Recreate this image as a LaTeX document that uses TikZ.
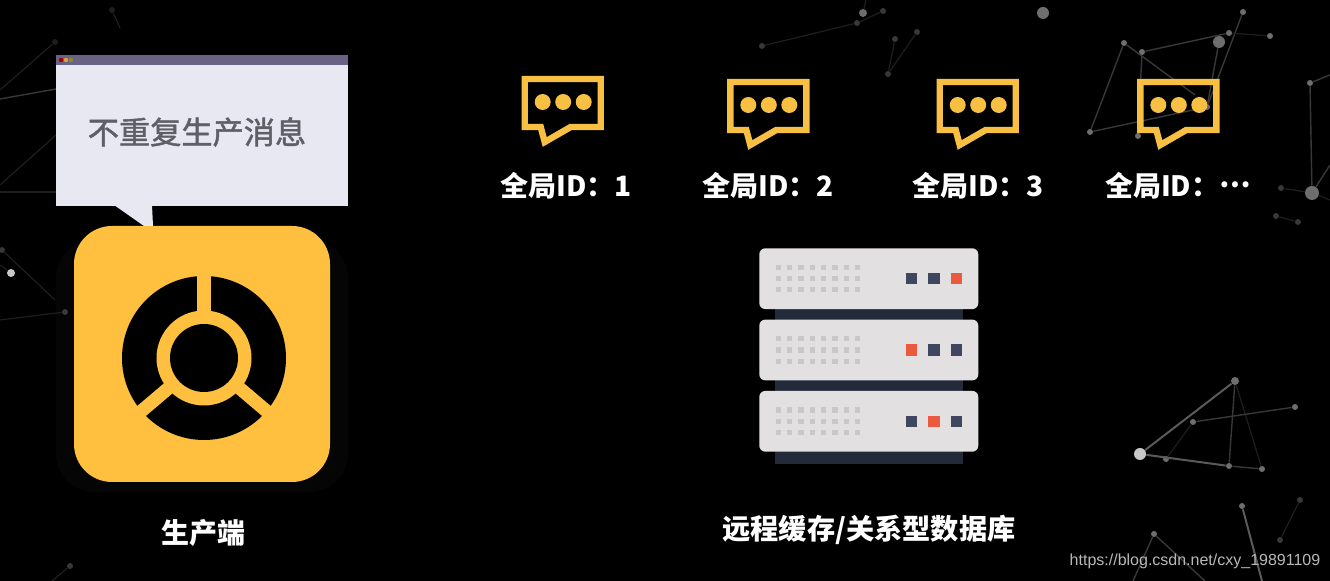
\documentclass[tikz,border=0pt]{standalone}
\usepackage{fontspec}
\usepackage{xcolor}
\usepackage{tikz}
\usetikzlibrary{calc,positioning}
\setmainfont{Noto Sans CJK SC}
\newfontfamily\winfont[FakeBold=1.5]{Noto Sans CJK SC}
\newfontfamily\wmfont{Liberation Sans}
\newcommand{\middots}{\raisebox{0.32em}{…}}
\definecolor{pagebg}{HTML}{000000}
\definecolor{accent}{HTML}{FFC03F}
\definecolor{halo}{HTML}{050505}
\definecolor{msgcolor}{HTML}{F7C043}
\definecolor{winbody}{HTML}{E8E8F3}
\definecolor{winbar}{HTML}{6A6284}
\definecolor{wintext}{HTML}{5F5F66}
\definecolor{srvbody}{HTML}{E3E0E2}
\definecolor{srvbar}{HTML}{232B3A}
\definecolor{srvdot}{HTML}{C9C7C8}
\definecolor{srvnavy}{HTML}{3F4660}
\definecolor{srvred}{HTML}{EB5A3F}
\definecolor{netdim}{HTML}{1E1E1E}
\definecolor{netgray}{HTML}{383838}
\definecolor{netmid}{HTML}{5A5A5A}
\definecolor{netdotc}{HTML}{6E6E6E}
\definecolor{netglow}{HTML}{C8C8C8}

\begin{document}
\begin{tikzpicture}[
  x=0.5pt, y=-0.5pt,
  netdot/.style={circle, fill=#1, inner sep=0pt, minimum size=3pt},
  netdot/.default=netdotc,
  netline/.style={netgray, line width=0.7pt},
  netfaint/.style={netdim, line width=0.6pt},
  netbold/.style={netmid, line width=1pt},
  lbl/.style={text=white, font=\bfseries, inner sep=0pt},
  srvbox/.style={rectangle, fill=srvbody, rounded corners=3pt, minimum width=109.5pt,
    minimum height=30.4pt, inner sep=0pt},
  srvlink/.style={rectangle, fill=srvbar, minimum width=93.8pt, minimum height=7pt, inner sep=0pt},
  lamp/.style={rectangle, fill=#1, minimum size=5.6pt, inner sep=0pt},
  msgline/.style={draw=msgcolor, line width=3.2pt, line join=miter},
  msgdot/.style={circle, fill=msgcolor, minimum size=8pt, inner sep=0pt},
]
  \useasboundingbox (0,0) rectangle (1330,581);
  \fill[pagebg] (0,0) rectangle (1330,581);
  \fill[halo, rounded corners=19pt] (56,240) rectangle (348,492);

  % Background network (top right)
  \node[netdot] (a1) at (1124,43) {};
  \node[netdot] (a2) at (1142,52) {};
  \node[netdot] (a3) at (1090,132) {};
  \node[netdot] (a4) at (1207,107) {};
  \node[netdot] (a5) at (1243,12) {};
  \node[netdot, minimum size=6pt] (a6) at (1219,42) {};
  \node[netdot] (a7) at (1229,33) {};
  \node[netdot] (a8) at (1270,36) {};
  \node[netdot] (a9) at (1138,136) {};
  \node[netdot] (a10) at (1310,83) {};
  \node[netdot, minimum size=7pt] (a11) at (1312,193) {};
  \node[netdot=netgray] (a12) at (1281,188) {};
  \node[netdot=netgray] (a13) at (1298,222) {};
  \node[netdot=netgray] (a14) at (1276,216) {};
  \node[netdot, minimum size=6pt] (a15) at (1043,13) {};
  \coordinate (e1) at (1330,75); \coordinate (e2) at (1330,165);
  \coordinate (e3) at (1330,200); \coordinate (e4) at (1195,95);
  \draw[netline] (a1)--(a3); \draw[netline] (a3)--(a4);
  \draw[netline] (a1)--(e4); \draw[netline] (a2)--(a7);
  \draw[netline] (a2)--(a9); \draw[netline] (a5)--(a4);
  \draw[netline] (a6)--(a4); \draw[netfaint] (a7)--(a8);
  \draw[netline] (a10)--(a11); \draw[netline] (a10)--(e1);
  \draw[netline] (a11)--(e2); \draw[netfaint] (a12)--(a11);
  \draw[netfaint] (a11)--(e3); \draw[netfaint] (a14)--(a13);

  % Background network (bottom right)
  \node[netdot=netglow, minimum size=6pt] (b1) at (1140,454) {};
  \node[netdot, minimum size=4pt] (b2) at (1235,381) {};
  \node[netdot] (b3) at (1229,466) {};
  \node[netdot] (b4) at (1262,469) {};
  \node[netdot] (b5) at (1193,422) {};
  \node[netdot] (b6) at (1295,407) {};
  \node[netdot] (b7) at (1166,459) {};
  \node[netdot] (b8) at (1242,506) {};
  \node[netdot] (b9) at (1154,534) {};
  \node[netdot=netgray] (b10) at (1280,540) {};
  \node[netdot=netgray] (b11) at (1300,500) {};
  \coordinate (e5) at (1262,581); \coordinate (e6) at (1133,581);
  \coordinate (e7) at (1205,581);
  \draw[netbold] (b1)--(b2); \draw[netbold] (b1)--(b3);
  \draw[netline] (b3)--(b4); \draw[netline] (b2)--(b3);
  \draw[netfaint] (b2)--(b4); \draw[netline] (b5)--(b6);
  \draw[netfaint] (b5)--(b7); \draw[netbold] (b8)--(e5);
  \draw[netline] (b9)--(e6); \draw[netline] (b9)--(e7);
  \draw[netfaint] (b10)--(b11);

  % Background network (top middle)
  \node[netdot, minimum size=4pt] (c1) at (863,13) {};
  \node[netdot=netgray] (c2) at (883,11) {};
  \node[netdot=netgray] (c3) at (857,23) {};
  \node[netdot=netgray] (c4) at (762,46) {};
  \node[netdot=netgray] (c5) at (888,74) {};
  \node[netdot=netgray] (c6) at (895,39) {};
  \node[netdot=netgray] (c7) at (917,32) {};
  \coordinate (e8) at (866,0);
  \draw[netfaint] (c3)--(c4); \draw[netfaint] (c3)--(c2);
  \draw[netfaint] (c1)--(e8); \draw[netfaint] (c5)--(c6);
  \draw[netfaint] (c5)--(c7);

  % Background network (left)
  \node[netdot=netdim] (d1) at (55,42) {};
  \node[netdot=netglow, minimum size=4pt] (d2) at (11,273) {};
  \node[netdot=netgray] (d3) at (2,250) {};
  \node[netdot=netgray] (d4) at (65,312) {};
  \node[netdot=netgray] (d5) at (70,566) {};
  \node[netdot=netdim] (d6) at (112,10) {};
  \coordinate (f1) at (0,90); \coordinate (f2) at (0,99);
  \coordinate (f3) at (56,89); \coordinate (f4) at (56,135);
  \coordinate (f5) at (0,185); \coordinate (f6) at (0,192);
  \coordinate (f7) at (56,192); \coordinate (f8) at (55,300);
  \coordinate (f9) at (0,320); \coordinate (f10) at (0,265);
  \coordinate (f11) at (52,581); \coordinate (f12) at (120,28);
  \draw[netfaint] (d1)--(f1); \draw[netline] (f2)--(f3);
  \draw[netfaint] (f4)--(f5); \draw[netfaint] (f6)--(f7);
  \draw[netfaint] (d3)--(f8); \draw[netfaint] (d4)--(f9);
  \draw[netfaint] (d2)--(f10); \draw[netfaint] (d5)--(f11);
  \draw[netfaint] (d6)--(f12);

  % Producer
  \fill[accent] (74,264) arc[start angle=180, end angle=90, radius=19pt]
    -- (292,226) arc[start angle=90, end angle=0, radius=19pt]
    -- (330,444) arc[start angle=0, end angle=-90, radius=19pt]
    -- (112,482) arc[start angle=-90, end angle=-180, radius=19pt] -- cycle;
  \coordinate (hub) at (204,358);
  \fill[black] (hub) circle[radius=41pt];
  \draw[accent, line width=6.6pt] (hub) -- ++(0,-86);
  \draw[accent, line width=6.6pt] (hub) -- ($(hub)+(-66,56)$);
  \draw[accent, line width=6.6pt] (hub) -- ($(hub)+(66,56)$);
  \fill[accent] (hub) circle[radius=23.75pt];
  \fill[black] (hub) circle[radius=17pt];
  \node[lbl, font=\fontsize{14}{16}\selectfont\bfseries] (prodlbl) at (203,533) {生产端};

  % Callout window
  \fill[winbody] (114,205) -- (152,205) -- (153,226) -- (144,226) -- cycle;
  \node[rectangle, fill=winbody, minimum width=146pt, minimum height=70.5pt, inner sep=0pt] (win) at (202,135.5) {};
  \node[rectangle, fill=winbar, minimum width=146pt, minimum height=5pt, inner sep=0pt] (winhead) at (202,60) {};
  \node[circle, fill=red!65!black, minimum size=2.2pt, inner sep=0pt] (w1) at (61,60) {};
  \node[circle, fill=accent!85!black, minimum size=2.2pt, inner sep=0pt] (w2) at (66,60) {};
  \node[circle, fill=olive!70!gray, minimum size=2.2pt, inner sep=0pt] (w3) at (71,60) {};
  \node[text=wintext, font=\winfont\fontsize{15.6}{18}\selectfont, inner sep=0pt] (wintxt) at (197,132) {不重复生产消息};

  % Messages
  \foreach \k/\x/\y/\id/\cx in {1/521.7/76/1/566, 2/727.3/79/2/768, 3/936.7/79/3/978, 4/1137.3/79/\middots/1178} {
    \begin{scope}[shift={(\x,\y)}]
      \draw[msgline] (3,3) -- (79,3) -- (79,51) -- (49,51) -- (23,66) -- (19,51) -- (3,51) -- cycle;
      \node[msgdot] (m\k a) at (21,26) {};
      \node[msgdot] (m\k b) at (41.5,26) {};
      \node[msgdot] (m\k c) at (62,26) {};
    \end{scope}
    \node[lbl, font=\fontsize{14}{16}\selectfont\bfseries] (id\k) at (\cx,186) {全局ID：\id};
  }

  % Server
  \node[srvlink] (l1) at (868.8,314.5) {};
  \node[srvlink] (l2) at (868.8,385.5) {};
  \node[srvlink] (l3) at (868.8,457) {};
  \node[srvbox] (s1) at (868.8,278.7) {};
  \node[srvbox] (s2) at (868.8,350) {};
  \node[srvbox] (s3) at (868.8,421.3) {};
  \foreach \r/\cy in {1/278.7, 2/350, 3/421.3} {
    \foreach \i in {0,...,7} {
      \foreach \j in {-11.2,0,11.2} {
        \fill[srvdot] ($(778.3+11.33*\i,\cy+\j)+(-1.3pt,-1.3pt)$) rectangle ++(2.6pt,2.6pt);
      }
    }
  }
  \node[lamp=srvnavy] (p1) at (911.3,278.7) {};
  \node[lamp=srvnavy] (p2) at (934,278.7) {};
  \node[lamp=srvred] (p3) at (956.7,278.7) {};
  \node[lamp=srvred] (q1) at (911.3,350) {};
  \node[lamp=srvnavy] (q2) at (934,350) {};
  \node[lamp=srvnavy] (q3) at (956.7,350) {};
  \node[lamp=srvnavy] (r1) at (911.3,421.3) {};
  \node[lamp=srvred] (r2) at (934,421.3) {};
  \node[lamp=srvnavy] (r3) at (956.7,421.3) {};
  \node[lbl, font=\fontsize{14.1}{16}\selectfont\bfseries] (srvlbl) at (869,530) {远程缓存/关系型数据库};

  % Watermark
  \node[text=white!72!black, font=\wmfont\fontsize{8}{10}\selectfont, inner sep=0pt] (wm) at (1195,561) {https://blog.csdn.net/cxy\_19891109};
\end{tikzpicture}
\end{document}
